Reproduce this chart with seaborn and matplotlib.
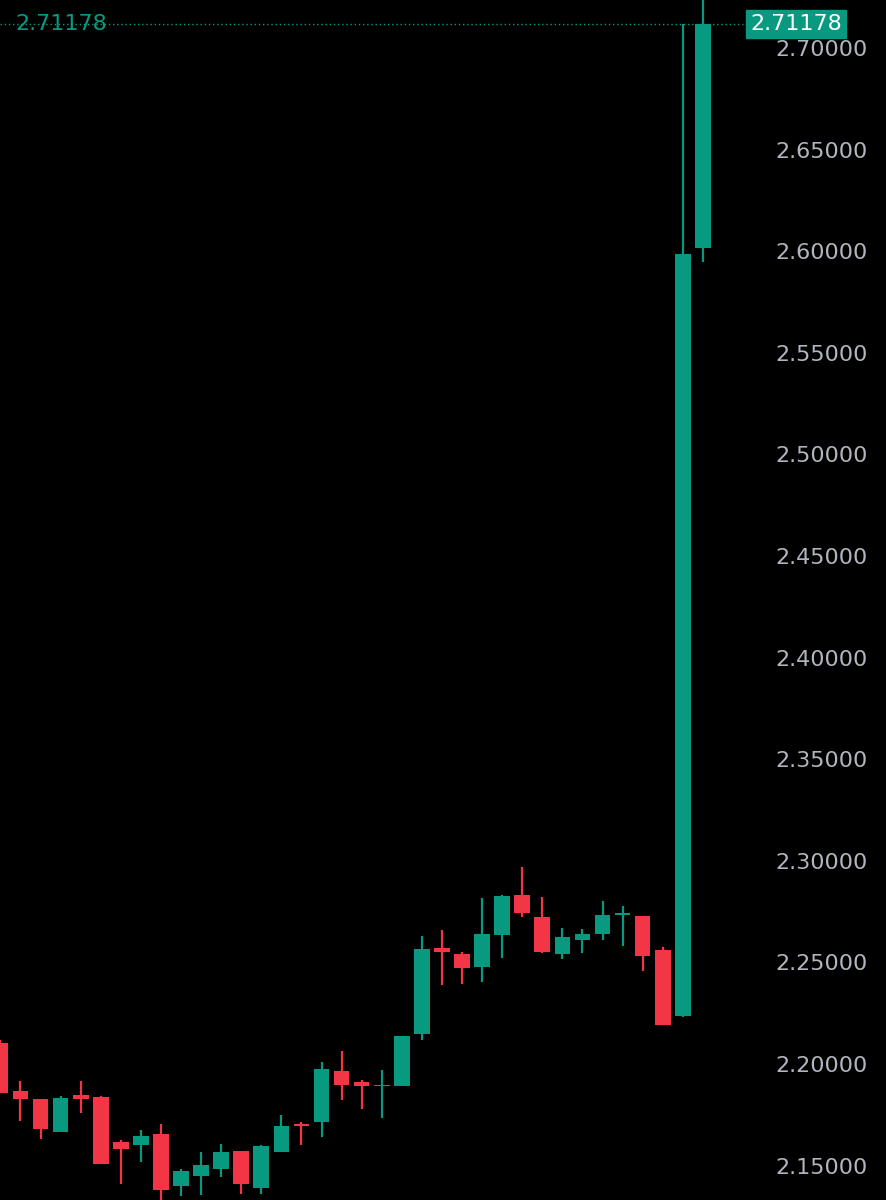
import matplotlib
matplotlib.use("Agg")
import matplotlib.pyplot as plt
import seaborn as sns
import numpy as np

opens  = [2.2103,2.1867,2.1828,2.1665,2.1847,2.1838,2.1616,2.1601,2.1655,2.1400,2.1449,2.1483,2.1572,2.1390,2.1567,2.1705,2.1715,2.1965,2.1911,2.1890,2.1892,2.2148,2.2571,2.2542,2.2477,2.2635,2.2832,2.2724,2.2542,2.2610,2.2640,2.2733,2.2729,2.2561,2.2236,2.6016]
closes = [2.1857,2.1828,2.1680,2.1833,2.1828,2.1508,2.1582,2.1646,2.1380,2.1473,2.1503,2.1567,2.1409,2.1596,2.1695,2.1695,2.1975,2.1897,2.1892,2.1892,2.2138,2.2566,2.2552,2.2472,2.2640,2.2827,2.2743,2.2552,2.2625,2.2640,2.2733,2.2738,2.2531,2.2192,2.5986,2.71178]
highs  = [2.2118,2.1916,2.1828,2.1843,2.1916,2.1843,2.1626,2.1675,2.1705,2.1483,2.1567,2.1606,2.1572,2.1601,2.1749,2.1715,2.2010,2.2064,2.1921,2.1970,2.2138,2.2630,2.2659,2.2552,2.2817,2.2832,2.2970,2.2822,2.2669,2.2665,2.2802,2.2778,2.2729,2.2576,2.7120,2.7300]
lows   = [2.1857,2.1720,2.1631,2.1665,2.1759,2.1508,2.1409,2.1518,2.1331,2.1350,2.1355,2.1444,2.1360,2.1360,2.1567,2.1601,2.1641,2.1823,2.1778,2.1734,2.1892,2.2118,2.2389,2.2394,2.2404,2.2522,2.2724,2.2547,2.2517,2.2547,2.2610,2.2581,2.2458,2.2192,2.2231,2.5947]
last_price = 2.71178
yticks = [2.15,2.20,2.25,2.30,2.35,2.40,2.45,2.50,2.55,2.60,2.65,2.70]

GREEN = "#089981"
RED = "#F23645"
TXT = "#B2B5BE"

sns.set_theme(style="dark", rc={"axes.facecolor": "black", "figure.facecolor": "black"})
fig = plt.figure(figsize=(8.87, 12), dpi=100)
ax = fig.add_axes([0, 0, 745/887, 1])
ax.set_facecolor("black")

x = np.arange(len(opens))
o = np.array(opens); c = np.array(closes)
cols = [GREEN if cc >= oo else RED for oo, cc in zip(o, c)]
ax.vlines(x, lows, highs, colors=cols, linewidth=1.6, zorder=2)
bottom = np.minimum(o, c)
height = np.maximum(np.abs(c - o), 0.0008)
ax.bar(x, height, bottom=bottom, width=0.78, color=cols, linewidth=0, zorder=3)

ax.set_xlim(-0.02, 37.1)
ax.set_ylim(2.1331, 2.7236)
ax.axhline(last_price, color=GREEN, linestyle=(0, (1, 2)), linewidth=1.0, zorder=1)
ax.set_xticks([])
ax.yaxis.tick_right()
ax.set_yticks(yticks)
ax.set_yticklabels([f"{v:.5f}" for v in yticks], color=TXT, fontsize=16)
ax.tick_params(axis="y", length=0, pad=22)
ax.grid(False)
for s in ax.spines.values():
    s.set_visible(False)

ax.text(0.02, last_price, f"{last_price:.5f}", color=GREEN, fontsize=16,
        va="center", ha="left", transform=ax.get_yaxis_transform())
ax.text(1.0 + 5/745, last_price, f"{last_price:.5f}", color="white", fontsize=16,
        va="center", ha="left", transform=ax.get_yaxis_transform(),
        bbox=dict(boxstyle="square,pad=0.18", facecolor=GREEN, edgecolor=GREEN), zorder=10)

fig.savefig("out.png", dpi=100, facecolor="black")
